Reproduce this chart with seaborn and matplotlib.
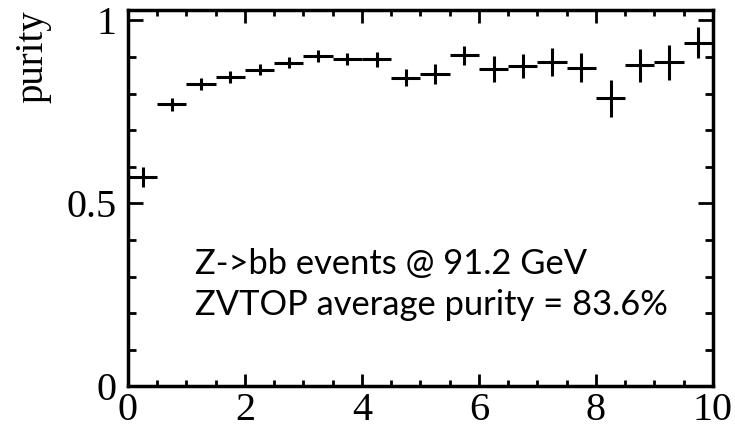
import numpy as np
import matplotlib
matplotlib.use("Agg")
import matplotlib.pyplot as plt
import seaborn as sns
from matplotlib.ticker import MultipleLocator

# Data (bin width 0.5)
bin_centers = [0.25, 0.75, 1.25, 1.75, 2.25, 2.75, 3.25, 3.75, 4.25, 4.75,
               5.25, 5.75, 6.25, 6.75, 7.25, 7.75, 8.25, 8.75, 9.25, 9.75]
purity = [0.572, 0.771, 0.827, 0.845, 0.866, 0.885, 0.903, 0.894, 0.894, 0.844,
          0.853, 0.905, 0.868, 0.876, 0.886, 0.871, 0.787, 0.877, 0.886, 0.939]
purity_err = [0.027, 0.018, 0.017, 0.017, 0.015, 0.016, 0.016, 0.017, 0.020, 0.024,
              0.027, 0.026, 0.035, 0.032, 0.038, 0.039, 0.051, 0.044, 0.048, 0.042]
bin_half_width = 0.25

sns.set_theme(style="ticks")
plt.rcParams["font.family"] = ["Liberation Serif", "DejaVu Serif"]

fig = plt.figure(figsize=(7.35, 4.33), dpi=100)
ax = fig.add_axes([0.174, 0.108, 0.796, 0.870])

sns.scatterplot(x=bin_centers, y=purity, marker="", ax=ax, legend=False)
ax.errorbar(bin_centers, purity, xerr=bin_half_width, yerr=purity_err,
            fmt="none", ecolor="black", elinewidth=2.2, capsize=0)

ax.set_xlim(0, 10)
ax.set_ylim(0, 1.03)
ax.xaxis.set_major_locator(MultipleLocator(2))
ax.xaxis.set_minor_locator(MultipleLocator(0.5))
ax.yaxis.set_major_locator(MultipleLocator(0.5))
ax.yaxis.set_minor_locator(MultipleLocator(0.1))
ax.set_yticks([0, 0.5, 1])
ax.set_yticklabels(["0", "0.5", "1"])
ax.tick_params(which="both", direction="in", top=True, right=True,
               color="black", labelsize=29, labelcolor="black")
ax.tick_params(axis="x", which="major", length=9, width=2, pad=4)
ax.tick_params(axis="x", which="minor", length=4.5, width=2)
ax.tick_params(axis="y", which="major", length=11, width=2, pad=8)
ax.tick_params(axis="y", which="minor", length=5.5, width=2)
for sp in ax.spines.values():
    sp.set_linewidth(2.5)
    sp.set_color("black")

ax.set_ylabel("purity", fontsize=28, color="black")
ax.yaxis.set_label_coords(-0.13, 0.875)

ax.text(1.15, 0.335, "Z->bb events @ 91.2 GeV", fontsize=24.8,
        family=["Lato", "DejaVu Sans"], color="black", va="center")
ax.text(1.15, 0.222, "ZVTOP average purity = 83.6%", fontsize=24.8,
        family=["Lato", "DejaVu Sans"], color="black", va="center")

fig.savefig("out.png", dpi=100)
